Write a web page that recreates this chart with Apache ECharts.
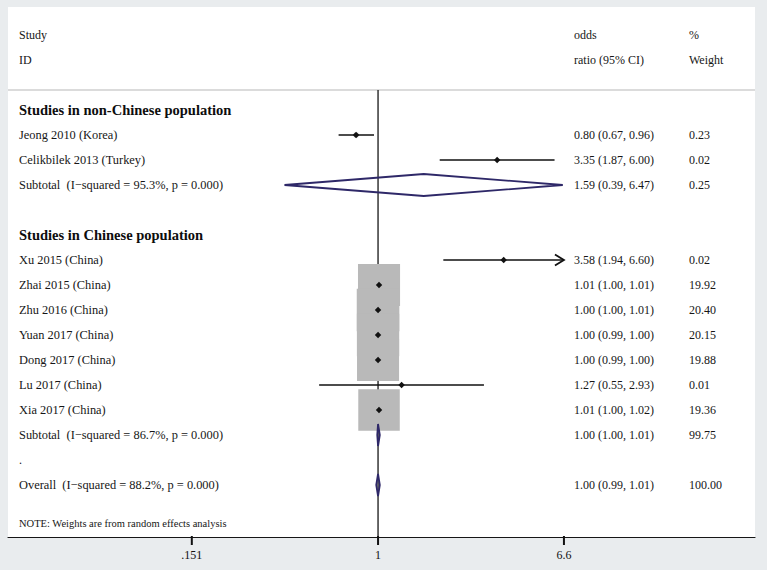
<!DOCTYPE html>
<html>
<head>
<meta charset="utf-8">
<title>Forest plot</title>
<script src="https://cdn.jsdelivr.net/npm/echarts@6/dist/echarts.min.js"></script>
<style>
html, body { margin: 0; padding: 0; background: #e9ecee; }
#main { width: 767px; height: 570px; }
</style>
</head>
<body>
<div id="main"></div>
<script>
// individual studies
const studyNames = ['Jeong 2010 (Korea)', 'Celikbilek 2013 (Turkey)', 'Xu 2015 (China)', 'Zhai 2015 (China)',
  'Zhu 2016 (China)', 'Yuan 2017 (China)', 'Dong 2017 (China)', 'Lu 2017 (China)', 'Xia 2017 (China)']
const studyRows = [0, 1, 5, 6, 7, 8, 9, 10, 11]
const studyOR = [0.80, 3.35, 3.58, 1.01, 1.00, 1.00, 1.00, 1.27, 1.01]
const studyLow = [0.67, 1.87, 1.94, 1.00, 1.00, 0.99, 0.99, 0.55, 1.00]
const studyHigh = [0.96, 6.00, 6.60, 1.01, 1.01, 1.00, 1.00, 2.93, 1.02]
const studyWeight = [0.23, 0.02, 0.02, 19.92, 20.40, 20.15, 19.88, 0.01, 19.36]

// pooled (diamonds)
const poolNames = ['Subtotal  (I\u2212squared = 95.3%, p = 0.000)', 'Subtotal  (I\u2212squared = 86.7%, p = 0.000)',
  'Overall  (I\u2212squared = 88.2%, p = 0.000)']
const poolRows = [2, 12, 14]
const poolOR = [1.59, 1.00, 1.00]
const poolLow = [0.39, 1.00, 0.99]
const poolHigh = [6.47, 1.01, 1.01]
const poolWeight = [0.25, 99.75, 100.00]

// subgroup headings
const groupNames = ['Studies in non-Chinese population', 'Studies in Chinese population']
const groupRows = [-1, 4]

// x axis (log scale)
const xTicks = [0.151, 1, 6.6]
const xTickLabels = ['.151', '1', '6.6']

const SERIF = '"Liberation Serif", "Times New Roman", serif'
const NAVY = '#2e2868'
const INK = '#161616'
const Y_MIN = -5.12
const Y_MAX = 16.08

let chart = echarts.init(document.getElementById('main'), null, { renderer: 'svg' })

function fmtCI (o, l, h) {
  return o.toFixed(2) + ' (' + l.toFixed(2) + ', ' + h.toFixed(2) + ')'
}

// text column drawn at a fixed pixel x, row position from the y scale
function textSeries (rows, texts, x, font, fill) {
  return {
    type: 'custom',
    silent: true,
    clip: false,
    data: rows.map((r, i) => [1, r, i]),
    encode: { x: 0, y: 1 },
    renderItem (params, api) {
      let y = api.coord([1, api.value(1)])[1]
      return {
        type: 'text',
        x: x,
        y: y,
        style: {
          text: texts[api.value(2)],
          font: font,
          fill: fill || INK,
          align: 'left',
          verticalAlign: 'middle'
        }
      }
    }
  }
}

let option = {
  animation: false,
  grid: {
    left: 8, right: 12, top: 7, bottom: 33,
    show: true, backgroundColor: '#fff', borderWidth: 0
  },
  xAxis: {
    type: 'log',
    min: 0.02337,
    max: 45.9,
    axisLine: { onZero: false, lineStyle: { color: INK, width: 1.2 } },
    axisTick: { show: false },
    axisLabel: { show: false },
    splitLine: { show: false },
    minorTick: { show: false }
  },
  yAxis: {
    type: 'value',
    inverse: true,
    min: Y_MIN,
    max: Y_MAX,
    show: false
  },
  series: [
    // separator under the header + reference line at 1
    {
      type: 'custom',
      silent: true,
      clip: false,
      data: [[1, -1.8]],
      encode: { x: 0, y: 1 },
      renderItem (params, api) {
        let cs = params.coordSys
        let p = api.coord([1, -1.8])
        return {
          type: 'group',
          children: [
            { type: 'line', shape: { x1: cs.x, y1: p[1], x2: cs.x + cs.width, y2: p[1] },
              style: { stroke: '#cfcfcf', lineWidth: 1.5 } },
            { type: 'line', shape: { x1: p[0], y1: p[1], x2: p[0], y2: cs.y + cs.height },
              style: { stroke: INK, lineWidth: 1.3 } }
          ]
        }
      }
    },
    // x axis ticks and labels at the chosen values
    {
      type: 'custom',
      silent: true,
      clip: false,
      z: 20,
      data: xTicks.map((v, i) => [v, 15, i]),
      encode: { x: 0, y: 1 },
      renderItem (params, api) {
        let cs = params.coordSys
        let x = api.coord([api.value(0), 15])[0]
        let yb = cs.y + cs.height
        return {
          type: 'group',
          children: [
            { type: 'rect', shape: { x: x - 1, y: yb - 1, width: 2, height: 9 },
              style: { fill: '#111' } },
            { type: 'text', x: x, y: yb + 18,
              style: { text: xTickLabels[api.value(2)], font: '12px ' + SERIF, fill: '#111',
                align: 'center', verticalAlign: 'middle' } }
          ]
        }
      }
    },
    // study boxes, CI lines and point estimates
    {
      type: 'custom',
      silent: true,
      clip: false,
      data: studyRows.map((r, i) => [studyOR[i], r, i]),
      encode: { x: 0, y: 1 },
      renderItem (params, api) {
        let i = api.value(2)
        let row = api.value(1)
        let c = api.coord([studyOR[i], row])
        let lo = api.coord([studyLow[i], row])
        let hi = api.coord([Math.min(studyHigh[i], 6.6), row])
        let s = 9.43 * Math.sqrt(studyWeight[i])
        let children = [
          { type: 'rect', shape: { x: c[0] - s / 2, y: c[1] - s / 2, width: s, height: s },
            style: { fill: '#b9b9b9' } },
          { type: 'line', shape: { x1: lo[0], y1: c[1], x2: hi[0], y2: c[1] },
            style: { stroke: '#111', lineWidth: 1.6 } },
          { type: 'polygon', shape: { points: [[c[0] - 3.2, c[1]], [c[0], c[1] - 3.2], [c[0] + 3.2, c[1]], [c[0], c[1] + 3.2]] },
            style: { fill: '#111' } }
        ]
        if (studyHigh[i] >= 6.6) {
          children.push({ type: 'polyline',
            shape: { points: [[hi[0] - 9, c[1] - 5.5], [hi[0], c[1]], [hi[0] - 9, c[1] + 5.5]] },
            style: { stroke: '#111', lineWidth: 1.8, fill: null } })
        }
        return { type: 'group', children: children }
      }
    },
    // pooled diamonds
    {
      type: 'custom',
      silent: true,
      clip: false,
      data: poolRows.map((r, i) => [poolOR[i], r, i]),
      encode: { x: 0, y: 1 },
      renderItem (params, api) {
        let i = api.value(2)
        let row = api.value(1)
        let c = api.coord([poolOR[i], row])
        let lo = api.coord([poolLow[i], row])
        let hi = api.coord([poolHigh[i], row])
        let h = 11
        return {
          type: 'polygon',
          shape: { points: [[lo[0] - 0.8, c[1]], [c[0], c[1] - h], [hi[0] + 0.8, c[1]], [c[0], c[1] + h]] },
          style: { fill: null, stroke: NAVY, lineWidth: 1.8 }
        }
      }
    },
    // table text
    textSeries([-4, -3], ['Study', 'ID'], 19, '12px ' + SERIF),
    textSeries([-4, -3], ['odds', 'ratio (95% CI)'], 574, '12px ' + SERIF),
    textSeries([-4, -3], ['%', 'Weight'], 689, '12px ' + SERIF),
    textSeries(groupRows, groupNames, 19, 'bold 14.5px ' + SERIF, '#0d0d0d'),
    textSeries(studyRows, studyNames, 19, '12.4px ' + SERIF),
    textSeries(studyRows, studyRows.map((r, i) => fmtCI(studyOR[i], studyLow[i], studyHigh[i])), 574, '12px ' + SERIF),
    textSeries(studyRows, studyWeight.map(w => w.toFixed(2)), 689, '12px ' + SERIF),
    textSeries(poolRows, poolNames, 19, '12.4px ' + SERIF),
    textSeries(poolRows, poolRows.map((r, i) => fmtCI(poolOR[i], poolLow[i], poolHigh[i])), 574, '12px ' + SERIF),
    textSeries(poolRows, poolWeight.map(w => w.toFixed(2)), 689, '12px ' + SERIF),
    textSeries([13], ['.'], 19, '12px ' + SERIF),
    textSeries([15.55], ['NOTE: Weights are from random effects analysis'], 19, '10.5px ' + SERIF)
  ]
}

chart.setOption(option)
</script>
</body>
</html>
